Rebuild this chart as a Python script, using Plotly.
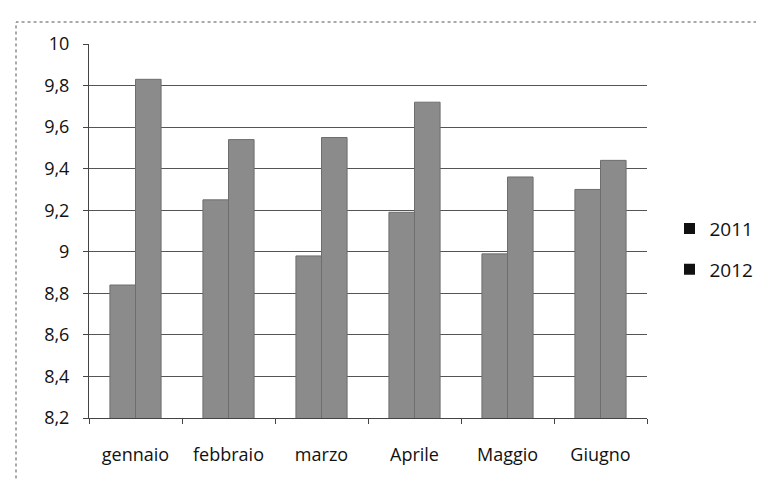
import plotly.graph_objects as go

categories = ["gennaio", "febbraio", "marzo", "Aprile", "Maggio", "Giugno"]
values_2011 = [8.84, 9.25, 8.98, 9.19, 8.99, 9.30]
values_2012 = [9.83, 9.54, 9.55, 9.72, 9.36, 9.44]
series_names = ["2011", "2012"]
y_ticks = [8.2, 8.4, 8.6, 8.8, 9.0, 9.2, 9.4, 9.6, 9.8, 10.0]
y_tick_labels = ["8,2", "8,4", "8,6", "8,8", "9", "9,2", "9,4", "9,6", "9,8", "10"]

BAR = "#8b8b8b"
FONT = "'Open Sans', sans-serif"

fig = go.Figure()
for name, vals in zip(series_names, [values_2011, values_2012]):
    fig.add_trace(go.Bar(
        x=categories, y=vals, name=name, showlegend=False,
        marker=dict(color=BAR, line=dict(color="#6e6e6e", width=1)),
    ))
for name in series_names:
    fig.add_trace(go.Scatter(
        x=[None], y=[None], mode="markers", name=name, legendgroup=name,
        marker=dict(symbol="square", color="#111111", size=11),
    ))

fig.update_layout(
    width=756, height=473,
    margin=dict(l=81, r=117, t=36, b=63, autoexpand=False),
    paper_bgcolor="white", plot_bgcolor="white",
    barmode="group", bargap=0.45, bargroupgap=0,
    font=dict(family=FONT, size=18, color="#111111"),
    legend=dict(xref="container", yref="container", x=0.875, y=0.49,
                xanchor="left", yanchor="middle",
                traceorder="grouped", tracegroupgap=13,
                font=dict(size=19), itemwidth=30,
                bgcolor="rgba(0,0,0,0)"),
    shapes=[dict(type="rect", xref="paper", yref="paper",
                 x0=-0.1308, y0=-0.3, x1=1.4, y1=1.0588,
                 line=dict(color="#555555", width=1, dash="dot"))],
)
fig.update_xaxes(
    showline=True, linecolor="#444444", linewidth=1,
    ticks="outside", tickson="boundaries", ticklen=5, tickcolor="#444444",
    ticklabelstandoff=20, showgrid=False, automargin=False,
)
fig.update_yaxes(
    range=[8.2, 10], tickvals=y_ticks, ticktext=y_tick_labels,
    showline=True, linecolor="#444444", linewidth=1,
    ticks="outside", ticklen=5, tickcolor="#444444",
    showgrid=True, gridcolor="#555555", gridwidth=1,
    ticklabelstandoff=10, zeroline=False, automargin=False,
)

fig.write_html("out.html")
